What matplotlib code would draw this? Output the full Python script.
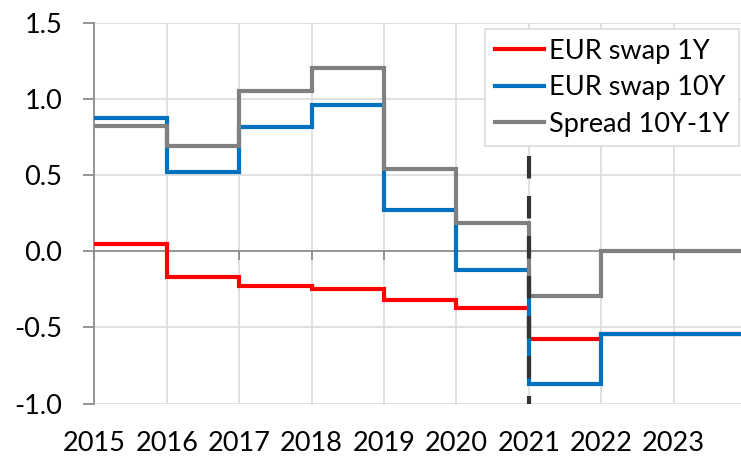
import matplotlib
matplotlib.use("Agg")
import matplotlib.pyplot as plt
from matplotlib.ticker import FormatStrFormatter

plt.rcParams['font.family'] = ['Lato', 'DejaVu Sans']

# ---- data ----
years = [2015, 2016, 2017, 2018, 2019, 2020, 2021, 2022, 2023]
eur_swap_1y = [0.05, -0.17, -0.23, -0.245, -0.32, -0.37, -0.575, -0.545, -0.545]
eur_swap_10y = [0.875, 0.52, 0.82, 0.96, 0.27, -0.12, -0.87, -0.545, -0.545]
spread_10y_1y = [0.826, 0.694, 1.055, 1.205, 0.545, 0.19, -0.29, 0.0, 0.0]
series_names = ["EUR swap 1Y", "EUR swap 10Y", "Spread 10Y-1Y"]
y_ticks = [-1.0, -0.5, 0.0, 0.5, 1.0, 1.5]
forecast_year = 2021
forecast_top = 0.63

colors = ["#FF0000", "#0070C0", "#808080"]

fig = plt.figure(figsize=(7.41, 4.59), dpi=100)
ax = fig.add_axes([94.3 / 741, 1 - 403.5 / 459, 1 - 94.3 / 741, (403.5 - 23.3) / 459])

x_ext = years + [years[-1] + 1]
for vals, col, name in zip([eur_swap_1y, eur_swap_10y, spread_10y_1y], colors, series_names):
    ax.step(x_ext, vals + [vals[-1]], where='post', color=col, lw=3.0, label=name,
            solid_joinstyle='miter', zorder=3)

# forecast dashed line
ax.plot([forecast_year, forecast_year], [forecast_top, y_ticks[0]], color='#333333', lw=3.0,
        dashes=(5.4, 4.2), dash_capstyle='butt', zorder=4)

ax.set_xlim(years[0], 2023.93)
ax.set_ylim(y_ticks[0], y_ticks[-1])

# grid
for yv in y_ticks:
    if yv != 0:
        ax.axhline(yv, color='#d9d9d9', lw=1.1, zorder=1)
for xv in years[1:]:
    ax.axvline(xv, color='#d9d9d9', lw=1.1, zorder=1)

# spines
for s in ['top', 'right']:
    ax.spines[s].set_visible(False)
ax.spines['left'].set_color('#8c8c8c')
ax.spines['left'].set_linewidth(1.3)
ax.spines['bottom'].set_position(('data', 0))
ax.spines['bottom'].set_color('#8c8c8c')
ax.spines['bottom'].set_linewidth(1.3)
ax.spines['bottom'].set_zorder(2)

ax.set_yticks(y_ticks)
ax.yaxis.set_major_formatter(FormatStrFormatter('%.1f'))
ax.tick_params(axis='y', direction='out', length=8, width=1.3, color='#8c8c8c',
               labelsize=19.5, pad=15, labelcolor='black')
ax.set_xticks(years)
ax.tick_params(axis='x', direction='out', length=6.5, width=1.3, color='#8c8c8c',
               labelbottom=False)

sec = ax.secondary_xaxis(location=0)
sec.set_xticks(years)
sec.set_xticklabels([str(y) for y in years])
sec.spines['bottom'].set_visible(False)
sec.tick_params(axis='x', length=0, labelsize=19.5, pad=20, labelcolor='black')

leg = ax.legend(loc='upper right', bbox_to_anchor=(739 / 741, 1 - 29.3 / 459),
                bbox_transform=fig.transFigure, borderaxespad=0, fontsize=19.5,
                frameon=True, fancybox=False, framealpha=1, edgecolor='#d9d9d9',
                handlelength=1.8, handletextpad=0.2, labelspacing=0.42,
                borderpad=0.35)
leg.get_frame().set_linewidth(1.1)
leg.set_zorder(5)

fig.savefig("out.png", dpi=100)
